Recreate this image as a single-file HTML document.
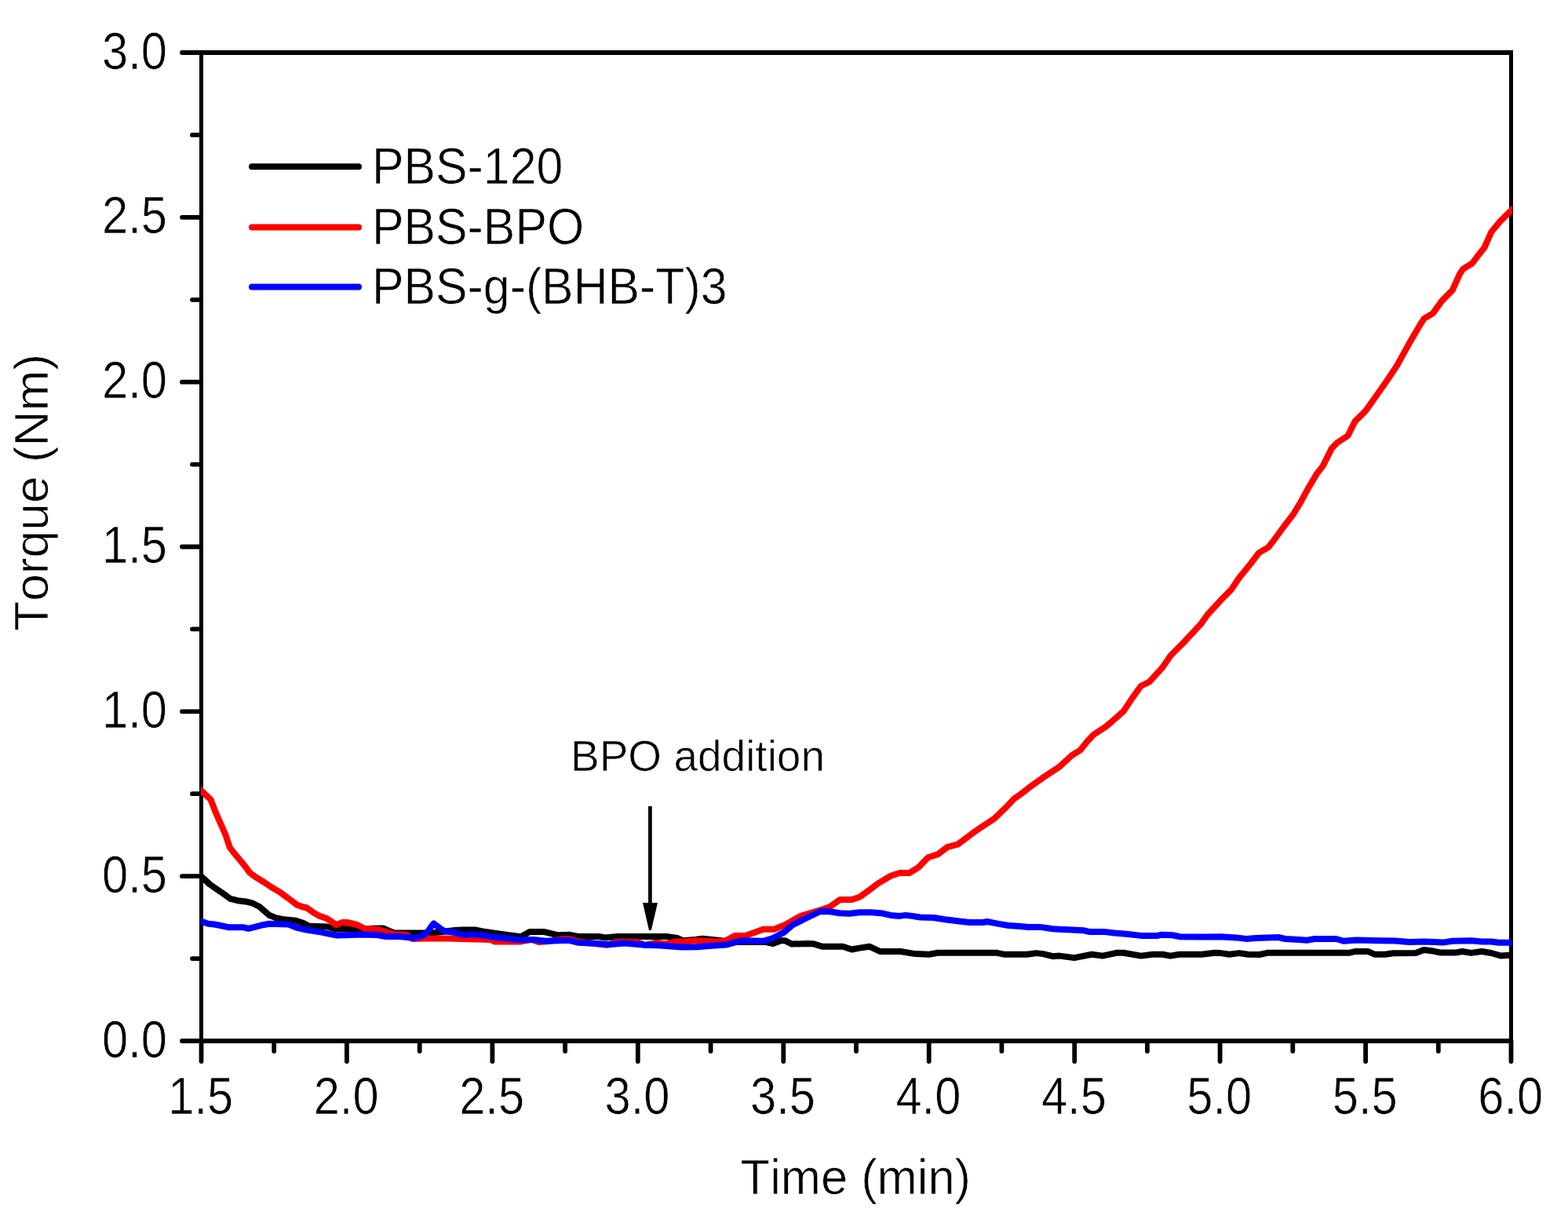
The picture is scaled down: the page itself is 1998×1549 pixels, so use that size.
<!DOCTYPE html>
<html><head><meta charset="utf-8"><style>
html,body{margin:0;padding:0;background:#fff;}
svg{display:block;}
text{font-family:"Liberation Sans",sans-serif;fill:#000;stroke:#fff;stroke-width:0.7px;font-kerning:none;}
</style></head><body>
<svg width="1998" height="1549" viewBox="0 0 1998 1549">
<defs><clipPath id="pc"><rect x="256" y="0" width="1671" height="1549"/></clipPath></defs>
<rect x="254" y="64" width="1674" height="6" fill="#000"/>
<rect x="254" y="1323" width="1674" height="6" fill="#000"/>
<rect x="254" y="64" width="5" height="1265" fill="#000"/>
<rect x="1923" y="64" width="5" height="1265" fill="#000"/>
<path d="M256.5 1326V1352 M349.2 1326V1339 M441.9 1326V1352 M534.7 1326V1339 M627.4 1326V1352 M720.1 1326V1339 M812.8 1326V1352 M905.6 1326V1339 M998.3 1326V1352 M1091.0 1326V1339 M1183.7 1326V1352 M1276.4 1326V1339 M1369.2 1326V1352 M1461.9 1326V1339 M1554.6 1326V1352 M1647.3 1326V1339 M1740.1 1326V1352 M1832.8 1326V1339 M1925.5 1326V1352 M256 1326.0H232 M256 1221.1H245 M256 1116.2H232 M256 1011.2H245 M256 906.3H232 M256 801.4H245 M256 696.5H232 M256 591.6H245 M256 486.7H232 M256 381.8H245 M256 276.8H232 M256 171.9H245 M256 67.0H232" stroke="#000" stroke-width="5.8" stroke-linecap="round" fill="none"/>
<text transform="translate(255.7 1418.5) scale(0.89 1)" text-anchor="middle" font-size="67">1.5</text>
<text transform="translate(441.1 1418.5) scale(0.89 1)" text-anchor="middle" font-size="67">2.0</text>
<text transform="translate(626.6 1418.5) scale(0.89 1)" text-anchor="middle" font-size="67">2.5</text>
<text transform="translate(812.0 1418.5) scale(0.89 1)" text-anchor="middle" font-size="67">3.0</text>
<text transform="translate(997.5 1418.5) scale(0.89 1)" text-anchor="middle" font-size="67">3.5</text>
<text transform="translate(1182.9 1418.5) scale(0.89 1)" text-anchor="middle" font-size="67">4.0</text>
<text transform="translate(1368.4 1418.5) scale(0.89 1)" text-anchor="middle" font-size="67">4.5</text>
<text transform="translate(1553.8 1418.5) scale(0.89 1)" text-anchor="middle" font-size="67">5.0</text>
<text transform="translate(1739.3 1418.5) scale(0.89 1)" text-anchor="middle" font-size="67">5.5</text>
<text transform="translate(1924.7 1418.5) scale(0.89 1)" text-anchor="middle" font-size="67">6.0</text>
<text transform="translate(213 1346.5) scale(0.89 1)" text-anchor="end" font-size="67">0.0</text>
<text transform="translate(213 1136.7) scale(0.89 1)" text-anchor="end" font-size="67">0.5</text>
<text transform="translate(213 926.8) scale(0.89 1)" text-anchor="end" font-size="67">1.0</text>
<text transform="translate(213 717.0) scale(0.89 1)" text-anchor="end" font-size="67">1.5</text>
<text transform="translate(213 507.2) scale(0.89 1)" text-anchor="end" font-size="67">2.0</text>
<text transform="translate(213 297.3) scale(0.89 1)" text-anchor="end" font-size="67">2.5</text>
<text transform="translate(213 87.5) scale(0.89 1)" text-anchor="end" font-size="67">3.0</text>
<text transform="translate(1090.3 1521) scale(0.975 1)" text-anchor="middle" font-size="63">Time (min)</text>
<text transform="translate(60.5 627.3) rotate(-90) scale(1.005 1)" text-anchor="middle" font-size="62">Torque (Nm)</text>
<path d="M321 212.3H457" stroke="#000" stroke-width="8" stroke-linecap="round"/>
<text transform="translate(474 233.8) scale(0.938 1)" font-size="64.8">PBS-120</text>
<path d="M321 289.4H457" stroke="#f00" stroke-width="8" stroke-linecap="round"/>
<text transform="translate(474 310.9) scale(0.938 1)" font-size="64.8">PBS-BPO</text>
<path d="M321 365.5H457" stroke="#00f" stroke-width="8" stroke-linecap="round"/>
<text transform="translate(474 387.0) scale(0.938 1)" font-size="64.8">PBS-g-(BHB-T)3</text>
<text x="889" y="982" text-anchor="middle" font-size="55">BPO addition</text>
<path d="M828.4 1027V1152" stroke="#000" stroke-width="4.7"/>
<path d="M819 1150H838L829.8 1185H827Z" fill="#000"/>
<path d="M248.2 1108.9 L256.2 1116.3 L267.0 1126.3 L274.8 1131.7 L284.1 1138.0 L293.4 1144.9 L302.7 1147.2 L315.1 1148.8 L321.3 1150.3 L330.6 1155.0 L343.0 1165.8 L350.7 1168.9 L361.5 1171.3 L377.0 1172.8 L386.3 1175.9 L394.1 1179.8 L417.3 1180.5 L428.2 1183.6 L435.9 1182.9 L442.1 1183.3 L453.0 1185.0 L475.0 1182.7 L488.0 1182.5 L502.0 1188.5 L540.0 1188.5 L555.0 1188.0 L580.0 1185.0 L590.0 1184.5 L605.0 1184.5 L615.0 1186.5 L630.0 1188.8 L650.0 1191.5 L663.8 1193.2 L675.0 1186.9 L692.6 1186.9 L711.4 1191.3 L725.0 1190.7 L736.4 1193.0 L762.7 1193.0 L771.4 1194.4 L786.4 1193.0 L849.0 1193.0 L862.8 1195.0 L870.0 1198.2 L886.3 1197.0 L895.0 1195.7 L907.5 1197.0 L923.8 1198.8 L940.0 1200.0 L976.4 1200.0 L985.0 1202.0 L995.0 1198.2 L1000.0 1198.2 L1009.0 1202.6 L1030.0 1202.0 L1037.7 1202.6 L1047.7 1205.7 L1074.0 1205.7 L1085.3 1209.5 L1095.3 1207.6 L1107.8 1205.7 L1121.3 1212.0 L1147.5 1212.0 L1166.3 1215.1 L1183.8 1215.7 L1195.1 1213.8 L1270.2 1213.8 L1279.0 1215.7 L1309.0 1215.7 L1320.3 1214.1 L1329.0 1215.1 L1341.5 1218.2 L1350.0 1217.6 L1368.8 1220.1 L1391.3 1215.7 L1405.0 1217.6 L1422.6 1213.8 L1431.4 1213.8 L1453.9 1217.6 L1468.9 1215.7 L1481.4 1215.7 L1491.4 1217.6 L1502.7 1215.7 L1531.5 1215.7 L1547.7 1213.8 L1555.3 1214.1 L1566.5 1215.7 L1579.0 1214.1 L1590.3 1215.7 L1605.0 1216.0 L1615.0 1213.8 L1718.9 1213.8 L1727.7 1211.9 L1742.7 1211.9 L1751.5 1215.7 L1765.2 1215.7 L1775.2 1214.2 L1804.0 1214.0 L1814.4 1210.0 L1824.0 1211.2 L1836.0 1213.6 L1854.5 1213.6 L1863.3 1212.0 L1874.5 1213.9 L1888.1 1212.0 L1900.1 1214.0 L1912.9 1217.6 L1924.0 1216.8 L1932.0 1216.2" stroke="#000" stroke-width="8" fill="none" stroke-linejoin="round" stroke-linecap="butt" clip-path="url(#pc)"/>
<path d="M248.2 999.5 L256.2 1007.0 L268.6 1018.7 L274.8 1034.9 L281.0 1048.9 L287.2 1062.8 L292.6 1079.1 L296.5 1084.5 L304.2 1093.8 L312.0 1103.1 L318.2 1111.6 L324.4 1116.3 L336.8 1124.0 L346.0 1130.2 L355.3 1135.6 L366.2 1143.4 L378.6 1152.7 L384.8 1155.0 L391.0 1156.5 L398.7 1162.0 L406.5 1166.6 L415.8 1169.7 L422.0 1173.6 L428.2 1178.2 L435.9 1175.1 L442.1 1175.0 L455.0 1178.0 L465.0 1183.0 L480.0 1184.0 L490.0 1186.5 L502.0 1190.0 L517.0 1190.5 L526.0 1196.0 L540.0 1195.5 L570.0 1195.5 L590.0 1196.0 L625.0 1197.0 L630.0 1199.4 L663.8 1199.4 L677.6 1196.9 L686.3 1200.0 L700.0 1199.0 L717.6 1196.3 L726.4 1196.3 L736.4 1199.4 L774.0 1203.8 L786.4 1199.8 L811.5 1200.0 L821.5 1203.8 L836.5 1200.7 L848.0 1202.5 L861.5 1199.4 L870.0 1199.5 L888.8 1198.2 L911.3 1199.5 L923.8 1198.8 L936.3 1192.0 L950.0 1192.0 L972.6 1183.8 L986.4 1183.8 L1001.4 1177.6 L1020.2 1166.9 L1045.2 1159.4 L1057.7 1155.0 L1070.2 1146.0 L1085.3 1146.0 L1095.3 1142.8 L1107.8 1133.8 L1118.8 1125.4 L1135.0 1115.8 L1146.3 1112.0 L1158.8 1112.0 L1170.1 1105.1 L1182.6 1092.2 L1195.1 1088.2 L1207.6 1078.8 L1220.2 1075.7 L1237.7 1062.6 L1250.2 1053.8 L1266.5 1043.2 L1281.5 1028.8 L1292.7 1017.1 L1300.2 1012.0 L1311.0 1003.6 L1327.4 991.7 L1349.4 977.2 L1365.9 962.1 L1376.8 955.3 L1385.6 944.3 L1393.3 936.0 L1409.8 925.1 L1420.7 915.7 L1431.7 905.9 L1442.7 889.4 L1453.7 874.0 L1464.7 868.5 L1481.1 850.4 L1491.7 835.0 L1506.8 819.9 L1530.3 794.7 L1538.7 783.0 L1557.2 762.8 L1568.9 751.1 L1579.0 736.0 L1594.1 717.5 L1604.2 704.1 L1615.9 697.4 L1622.6 689.0 L1636.1 670.5 L1647.8 655.4 L1657.9 638.7 L1668.0 620.2 L1678.0 603.4 L1685.8 593.4 L1697.1 570.8 L1703.9 564.0 L1717.5 555.0 L1726.5 536.9 L1740.1 523.4 L1751.4 507.5 L1767.2 485.0 L1780.7 464.6 L1794.3 439.8 L1810.1 412.7 L1814.6 405.9 L1825.9 399.1 L1837.2 383.3 L1850.8 369.7 L1859.8 349.4 L1864.3 342.6 L1875.6 335.8 L1882.4 326.8 L1891.4 315.5 L1900.5 295.2 L1911.8 281.6 L1924.6 269.2 L1932.6 261.4" stroke="#f00" stroke-width="8" fill="none" stroke-linejoin="round" stroke-linecap="butt" clip-path="url(#pc)"/>
<path d="M248.2 1170.9 L256.2 1173.6 L265.5 1176.7 L273.2 1177.5 L281.0 1179.0 L291.8 1181.3 L310.4 1181.3 L316.6 1182.9 L322.8 1181.3 L335.2 1178.2 L343.0 1176.7 L367.7 1177.5 L377.0 1181.3 L389.4 1184.4 L404.9 1186.7 L420.4 1189.8 L428.2 1191.4 L440.0 1191.2 L460.0 1190.5 L480.0 1191.0 L492.0 1193.0 L510.0 1193.0 L528.0 1195.0 L539.0 1191.5 L545.0 1187.0 L549.0 1181.0 L552.6 1176.5 L560.0 1182.0 L566.0 1186.0 L580.0 1188.0 L590.0 1191.0 L602.0 1190.0 L620.0 1192.0 L630.0 1193.8 L663.8 1197.3 L680.0 1196.9 L695.0 1198.8 L725.0 1197.8 L736.4 1200.7 L762.7 1202.0 L774.0 1203.2 L796.5 1201.6 L821.5 1203.8 L842.8 1204.4 L867.8 1206.6 L888.8 1206.3 L900.0 1205.3 L925.0 1203.6 L945.0 1198.2 L972.6 1198.8 L985.0 1195.0 L998.9 1187.6 L1010.0 1178.2 L1026.4 1170.0 L1045.2 1161.0 L1057.7 1161.3 L1070.2 1163.2 L1082.8 1163.8 L1095.3 1162.3 L1110.3 1162.2 L1122.5 1163.2 L1135.0 1165.9 L1146.3 1166.9 L1153.8 1165.9 L1162.5 1166.9 L1172.6 1168.5 L1190.0 1169.0 L1203.9 1171.3 L1220.0 1173.2 L1235.0 1175.0 L1252.7 1175.0 L1257.7 1174.0 L1272.7 1176.9 L1285.2 1179.0 L1300.2 1180.0 L1310.2 1180.9 L1325.3 1180.9 L1341.5 1183.2 L1350.0 1183.8 L1381.3 1185.3 L1387.5 1186.9 L1406.3 1186.9 L1420.0 1188.5 L1437.6 1190.0 L1453.9 1191.9 L1475.2 1191.9 L1480.2 1190.7 L1493.9 1191.3 L1504.0 1193.2 L1537.7 1193.5 L1555.3 1193.2 L1575.3 1194.4 L1587.8 1195.9 L1600.0 1195.0 L1628.8 1194.0 L1637.6 1196.0 L1655.1 1196.9 L1665.1 1197.7 L1675.1 1196.0 L1702.6 1196.0 L1712.6 1198.8 L1727.7 1197.4 L1759.0 1198.2 L1777.7 1198.5 L1795.3 1200.0 L1816.0 1199.6 L1838.8 1200.6 L1850.5 1198.8 L1874.9 1198.2 L1888.1 1199.6 L1900.1 1199.5 L1909.7 1200.8 L1924.0 1200.8 L1932.0 1200.8" stroke="#00f" stroke-width="8" fill="none" stroke-linejoin="round" stroke-linecap="butt" clip-path="url(#pc)"/>
</svg>
</body></html>
